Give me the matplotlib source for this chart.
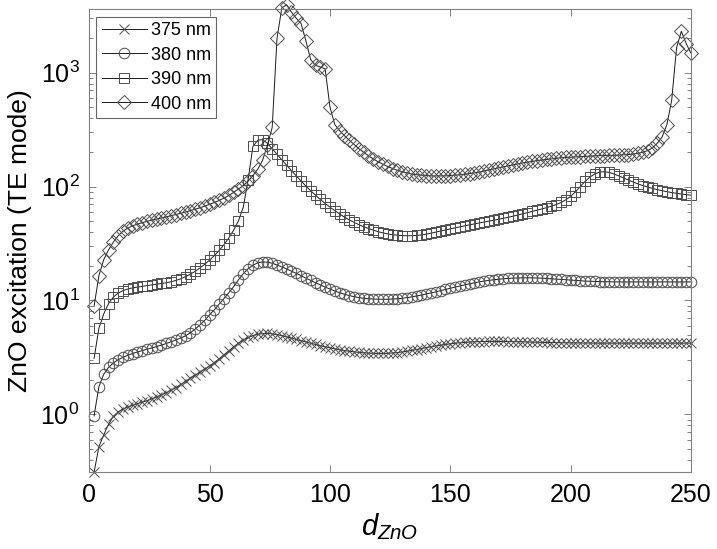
import numpy as np
import matplotlib
matplotlib.use("Agg")
import matplotlib.pyplot as plt

plt.rcParams['font.family'] = ['Liberation Sans', 'DejaVu Sans']
plt.rcParams['mathtext.fontset'] = 'custom'
plt.rcParams['mathtext.rm'] = 'Liberation Sans'
plt.rcParams['mathtext.it'] = 'Liberation Sans:italic'

# ZnO thickness (nm)
d_zno = np.arange(2, 251, 2)

# excitation values, rows of 10 points
exc_375 = [0.31, 0.52, 0.66, 0.82, 0.96, 1.05, 1.11, 1.16, 1.20, 1.24,
           1.28, 1.32, 1.37, 1.42, 1.48, 1.55, 1.63, 1.72, 1.83, 1.95,
           2.07, 2.20, 2.35, 2.50, 2.66, 2.85, 3.08, 3.34, 3.62, 3.92,
           4.22, 4.50, 4.73, 4.92, 5.04, 5.11, 5.13, 5.09, 5.01, 4.91,
           4.79, 4.67, 4.55, 4.43, 4.32, 4.21, 4.11, 4.01, 3.92, 3.84,
           3.76, 3.69, 3.63, 3.58, 3.54, 3.50, 3.47, 3.45, 3.44, 3.43,
           3.43, 3.44, 3.46, 3.49, 3.53, 3.58, 3.64, 3.71, 3.78, 3.85,
           3.92, 3.99, 4.05, 4.11, 4.16, 4.21, 4.25, 4.28, 4.31, 4.33,
           4.35, 4.36, 4.37, 4.37, 4.37, 4.37, 4.36, 4.35, 4.34, 4.33,
           4.32, 4.31, 4.30, 4.29, 4.28, 4.27, 4.26, 4.25, 4.25, 4.24,
           4.24, 4.23, 4.23, 4.23, 4.22, 4.22, 4.22, 4.22, 4.22, 4.22,
           4.22, 4.22, 4.22, 4.22, 4.22, 4.22, 4.22, 4.22, 4.22, 4.22,
           4.22, 4.22, 4.22, 4.22, 4.22]

exc_380 = [0.97, 1.75, 2.25, 2.58, 2.83, 3.02, 3.17, 3.30, 3.42, 3.53,
           3.63, 3.73, 3.83, 3.94, 4.06, 4.19, 4.34, 4.50, 4.68, 4.90,
           5.20, 5.60, 6.10, 6.70, 7.50, 8.30, 9.30, 10.4, 11.7, 13.2,
           15.2, 17.2, 19.0, 20.4, 21.4, 21.8, 21.7, 21.2, 20.5, 19.7,
           18.9, 18.1, 17.3, 16.5, 15.7, 15.0, 14.3, 13.7, 13.1, 12.6,
           12.1, 11.7, 11.35, 11.05, 10.8, 10.6, 10.45, 10.35, 10.3, 10.25,
           10.25, 10.25, 10.3, 10.35, 10.45, 10.6, 10.75, 10.95, 11.15, 11.4,
           11.65, 11.9, 12.2, 12.5, 12.8, 13.1, 13.4, 13.7, 14.0, 14.3,
           14.55, 14.8, 15.0, 15.2, 15.35, 15.5, 15.6, 15.7, 15.75, 15.8,
           15.8, 15.8, 15.75, 15.7, 15.6, 15.5, 15.4, 15.3, 15.2, 15.1,
           15.0, 14.9, 14.8, 14.75, 14.7, 14.65, 14.6, 14.6, 14.55, 14.55,
           14.55, 14.55, 14.55, 14.55, 14.55, 14.55, 14.55, 14.55, 14.55, 14.55,
           14.55, 14.55, 14.55, 14.55, 14.55]

exc_390 = [3.1, 5.7, 7.6, 9.4, 10.7, 11.6, 12.2, 12.6, 12.9, 13.1,
           13.3, 13.5, 13.7, 13.9, 14.1, 14.3, 14.6, 15.0, 15.5, 16.2,
           17.0, 18.0, 19.3, 20.8, 22.6, 24.8, 27.5, 31.0, 35.5, 41.5,
           50, 66, 115, 225, 255, 258, 240, 215, 192, 172,
           154, 138, 124, 112, 101, 92, 84, 77, 71, 66,
           61.5, 57.5, 54, 51, 48.5, 46.3, 44.4, 42.8, 41.4, 40.2,
           39.2, 38.4, 37.8, 37.4, 37.1, 37.0, 37.0, 37.2, 37.6, 38.2,
           39.0, 39.8, 40.7, 41.6, 42.5, 43.4, 44.3, 45.2, 46.1, 47.0,
           47.9, 48.8, 49.7, 50.6, 51.6, 52.6, 53.7, 54.9, 56.2, 57.6,
           59.0, 60.5, 62.0, 63.6, 65.3, 67.2, 69.5, 72.5, 76.5, 82,
           90, 100, 111, 121, 129, 134, 135, 133, 129, 124,
           119, 114, 109.5, 105.5, 102, 99, 96.3, 94, 92, 90.2,
           88.6, 87.2, 86, 85, 84]

exc_400 = [8.9, 16.5, 22.8, 27.8, 32.5, 37.0, 40.5, 43.2, 45.2, 46.8,
           48.2, 49.5, 50.7, 51.8, 53.0, 54.2, 55.5, 56.8, 58.2, 59.8,
           61.5, 63.3, 65.2, 67.3, 69.8, 72.5, 75.6, 79.2, 83.5, 89,
           95, 102, 112, 125, 142, 170, 230, 330, 2000, 3700,
           3950, 3400, 3000, 2700, 1900, 1300, 1160, 1120, 1080, 500,
           350, 310, 280, 255, 235, 215, 200, 186, 175, 165,
           157, 150, 144, 139, 135, 132, 129, 127, 126, 125,
           124, 124, 124, 124, 125, 126, 127, 128, 130, 132,
           134, 137, 140, 143, 146, 149, 152, 155, 158, 161,
           164, 166, 169, 171, 173, 175, 177, 179, 180, 181,
           182, 183, 184, 185, 186, 187, 187, 188, 188, 189,
           190, 191, 193, 196, 200, 207, 218, 240, 272, 350,
           575, 1650, 2310, 1800, 1480]

labels = ['375 nm', '380 nm', '390 nm', '400 nm']
markers = ['x', 'o', 's', 'D']
sizes = [7.5, 7.6, 7.4, 7.0]

fig = plt.figure(figsize=(7.17, 5.49), dpi=100)
ax = fig.add_axes([0.1245, 0.1397, 0.8392, 0.8434])

for y, lab, m, ms in zip([exc_375, exc_380, exc_390, exc_400], labels, markers, sizes):
    ax.plot(d_zno, y, color='0.1', lw=0.7, marker=m, ms=ms, mfc='none',
            mec='0.3', mew=0.7, label=lab, clip_on=False)

ax.set_yscale('log')
ax.set_xlim(0, 250)
ax.set_ylim(0.31, 3600)
ax.set_xticks([0, 50, 100, 150, 200, 250])

for s in ax.spines.values():
    s.set_color('0.5')
    s.set_linewidth(0.8)
ax.tick_params(which='both', direction='in', top=True, right=True, color='0.5',
               labelsize=18, width=0.7)
ax.tick_params(which='major', length=5)
ax.tick_params(which='minor', length=3)
ax.tick_params(axis='x', pad=8)
ax.tick_params(axis='y', pad=7)

ax.set_ylabel('ZnO excitation (TE mode)', fontsize=19, labelpad=6)
ax.set_xlabel(r'$d_{ZnO}$', fontsize=21, labelpad=3)

leg = ax.legend(loc='upper left', fontsize=13, frameon=True, fancybox=False,
                edgecolor='0.4', framealpha=1, handlelength=2.5,
                labelspacing=0.42, borderaxespad=0.4, handletextpad=0.2,
                borderpad=0.3)
leg.get_frame().set_linewidth(0.8)

fig.savefig('out.png', dpi=100)
